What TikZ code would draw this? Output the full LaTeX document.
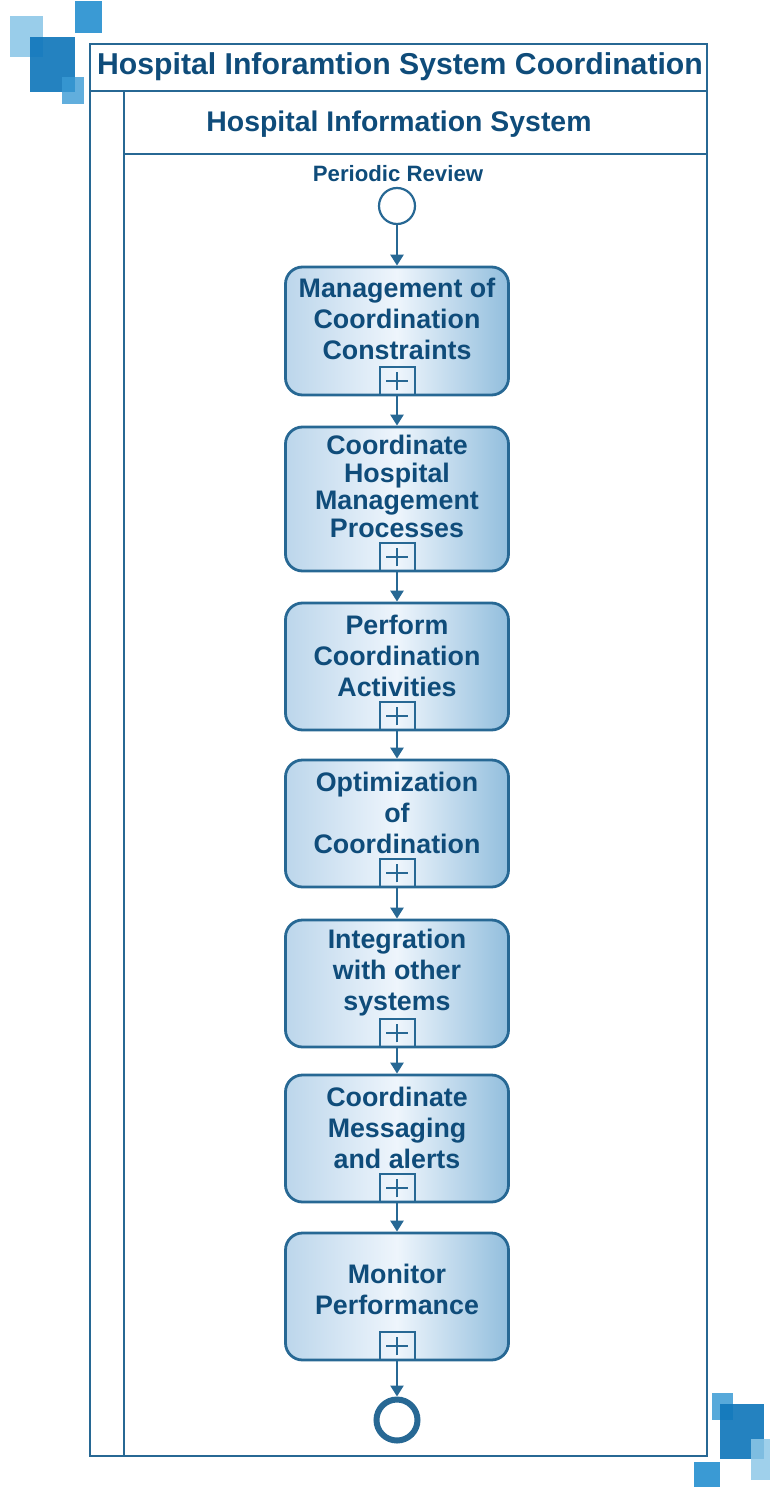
\documentclass[tikz,border=0pt]{standalone}
\usepackage{fontspec}
\setmainfont{Liberation Sans}
\usetikzlibrary{arrows.meta}
\definecolor{ink}{HTML}{0F4C7A}
\definecolor{edge}{HTML}{276894}
\definecolor{boxL}{HTML}{BCD6EB}
\definecolor{boxM}{HTML}{EEF5FC}
\definecolor{boxR}{HTML}{92BEDD}
\definecolor{sqDark}{HTML}{1177BB}
\definecolor{sqMid}{HTML}{3A9AD4}
\definecolor{sqLight}{HTML}{8EC8E8}
\tikzset{
  frame/.style={draw=edge, line width=2.8pt},
  task/.style={draw=edge, line width=2.8pt, rounded corners=17pt,
    left color=boxL, right color=boxR, middle color=boxM,
    minimum width=223pt, inner sep=0pt},
  tasktext/.style={text=ink, font=\bfseries\fontsize{26.8}{31}\selectfont, align=center, inner sep=0pt},
  marker/.style={draw=edge, line width=2pt, minimum width=35pt, minimum height=28pt, inner sep=0pt, anchor=south},
  flow/.style={draw=edge, line width=2.5pt, -{Triangle[length=11pt,width=13pt]}},
  plusline/.style={draw=edge, line width=2pt},
}
\begin{document}
\begin{tikzpicture}[x=1pt,y=-1pt]
\useasboundingbox (0,0) rectangle (770,1487);

% corner decoration, top left
\fill[sqLight, opacity=0.9] (10,16) rectangle (43,57);
\fill[sqMid] (75,1) rectangle (102,33);
\fill[sqDark, opacity=0.92] (30,37) rectangle (75,92);
\fill[sqMid, opacity=0.8] (62,77) rectangle (84,104);

% corner decoration, bottom right
\fill[sqMid, opacity=0.85] (712,1393) rectangle (733,1420);
\fill[sqDark, opacity=0.92] (720,1404) rectangle (764,1459);
\fill[sqLight, opacity=0.85] (751,1439) rectangle (770,1480);
\fill[sqMid] (694,1462) rectangle (720,1487);

% pool and lane
\draw[frame] (90,44) rectangle (707,1456);
\draw[frame] (90,91) -- (707,91);
\draw[frame] (124,91) -- (124,1456);
\draw[frame] (124,154) -- (707,154);
\node[text=ink, font=\bfseries\fontsize{30.2}{35}\selectfont] (pooltitle) at (400,67) {Hospital Inforamtion System Coordination};
\node[text=ink, font=\bfseries\fontsize{28.4}{33}\selectfont] (lanetitle) at (399,124) {Hospital Information System};

% start event
\node[text=ink, font=\bfseries\fontsize{22.2}{26}\selectfont] (startlabel) at (398,174) {Periodic Review};
\node[circle, draw=edge, line width=2.2pt, fill=white, minimum size=36pt, inner sep=0pt] (start) at (397,206) {};

% sub-process boxes
\node[task, minimum height=128pt] (b1) at (397,331) {};
\node[task, minimum height=144pt] (b2) at (397,499) {};
\node[task, minimum height=127pt] (b3) at (397,666.5) {};
\node[task, minimum height=127pt] (b4) at (397,823.5) {};
\node[task, minimum height=127pt] (b5) at (397,983.5) {};
\node[task, minimum height=127pt] (b6) at (397,1138.5) {};
\node[task, minimum height=127pt] (b7) at (397,1296.5) {};

\node[tasktext] (t1) at ([yshift=12pt]b1.center) {Management of\\Coordination\\Constraints};
\node[tasktext, font=\bfseries\fontsize{26.8}{27.7}\selectfont] (t2) at ([yshift=12.5pt]b2.center) {Coordinate\\Hospital\\Management\\Processes};
\node[tasktext] (t3) at ([yshift=11pt]b3.center) {Perform\\Coordination\\Activities};
\node[tasktext] (t4) at ([yshift=11pt]b4.center) {Optimization\\of\\Coordination};
\node[tasktext] (t5) at ([yshift=10.5pt]b5.center) {Integration\\with other\\systems};
\node[tasktext] (t6) at ([yshift=11pt]b6.center) {Coordinate\\Messaging\\and alerts};
\node[tasktext] (t7) at ([yshift=7pt]b7.center) {Monitor\\Performance};

% collapsed sub-process markers
\foreach \i in {1,...,7} {
  \node[marker] (m\i) at (b\i.south) {};
  \draw[plusline] ([xshift=-11pt]m\i.center) -- ([xshift=11pt]m\i.center);
  \draw[plusline] ([yshift=-9pt]m\i.center) -- ([yshift=9pt]m\i.center);
}

% end event
\node[circle, draw=edge, line width=6pt, fill=white, minimum size=41pt, inner sep=0pt] (end) at (397,1420) {};

% sequence flows
\draw[flow] (start) -- (b1);
\draw[flow] (b1) -- (b2);
\draw[flow] (b2) -- (b3);
\draw[flow] (b3) -- (b4);
\draw[flow] (b4) -- (b5);
\draw[flow] (b5) -- (b6);
\draw[flow] (b6) -- (b7);
\draw[flow] (b7) -- (end);
\end{tikzpicture}
\end{document}
